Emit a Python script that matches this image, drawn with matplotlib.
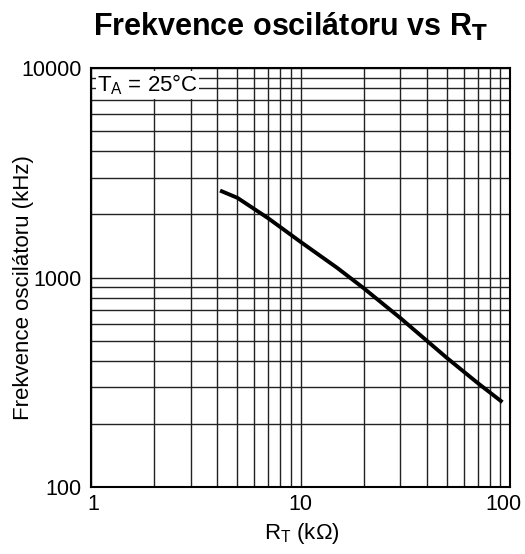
import numpy as np
import matplotlib.pyplot as plt
import matplotlib.transforms as mtransforms
from matplotlib.ticker import LogLocator, FixedLocator, NullFormatter

plt.rcParams["font.family"] = ["Liberation Sans", "DejaVu Sans"]

# Curve (R_T in kOhm, frequency in kHz)
rt_kohm = [4.13, 5, 7, 10, 15, 20, 30, 50, 70, 92]
freq_khz = [2600, 2400, 1920, 1480, 1110, 890, 640, 413, 314, 254]

x_ticks = [1, 10, 100]
x_tick_labels = ["1", "10", "100"]
y_ticks = [100, 1000, 10000]
y_tick_labels = ["100", "1000", "10000"]

fig = plt.figure(figsize=(5.25, 5.54), dpi=100)
ax = fig.add_axes([91 / 525, 1 - 487 / 554, 419 / 525, 419 / 554])

ax.set_xscale("log")
ax.set_yscale("log")
ax.set_xlim(1, 100)
ax.set_ylim(100, 10000)

ax.plot(rt_kohm, freq_khz, color="black", lw=2.8, solid_capstyle="butt", zorder=3)

ax.xaxis.set_major_locator(FixedLocator(x_ticks))
ax.set_xticklabels(x_tick_labels)
ax.yaxis.set_major_locator(FixedLocator(y_ticks))
ax.set_yticklabels(y_tick_labels)
ax.xaxis.set_minor_locator(LogLocator(base=10, subs=np.arange(2, 10)))
ax.yaxis.set_minor_locator(LogLocator(base=10, subs=np.arange(2, 10)))
ax.xaxis.set_minor_formatter(NullFormatter())
ax.yaxis.set_minor_formatter(NullFormatter())

ax.grid(True, which="both", color="#222222", lw=1.0)
ax.tick_params(which="both", length=0, labelsize=15.5)
ax.tick_params(axis="y", pad=7)
ax.tick_params(axis="x", pad=5)
for s in ax.spines.values():
    s.set_linewidth(1.5)

# nudge the x tick labels a little, as in the reference ("100" sits left of its gridline)
xlabels = ax.get_xticklabels()
xlabels[0].set_transform(xlabels[0].get_transform()
                         + mtransforms.ScaledTranslation(2 / 100, 0, fig.dpi_scale_trans))
xlabels[-1].set_transform(xlabels[-1].get_transform()
                          + mtransforms.ScaledTranslation(-7 / 100, 0, fig.dpi_scale_trans))

ax.set_xlabel("R$_\\mathregular{T}$ (kΩ)", fontsize=16)
ax.xaxis.set_label_coords(0.504, -0.082)
ax.set_ylabel("Frekvence oscilátoru (kHz)", fontsize=16, va="center")
ax.yaxis.set_label_coords(-0.16, 0.476)

fig.text(0.554, 1 - 36 / 554, "Frekvence oscilátoru vs R$_\\mathbf{T}$", fontsize=22,
         fontweight="bold", ha="center", va="baseline")

ax.text(1.07, 8300, "T$_\\mathregular{A}$ = 25°C", fontsize=16, va="center", ha="left",
        bbox=dict(facecolor="white", edgecolor="none", pad=1), zorder=4)

fig.savefig("out.png", dpi=100)
